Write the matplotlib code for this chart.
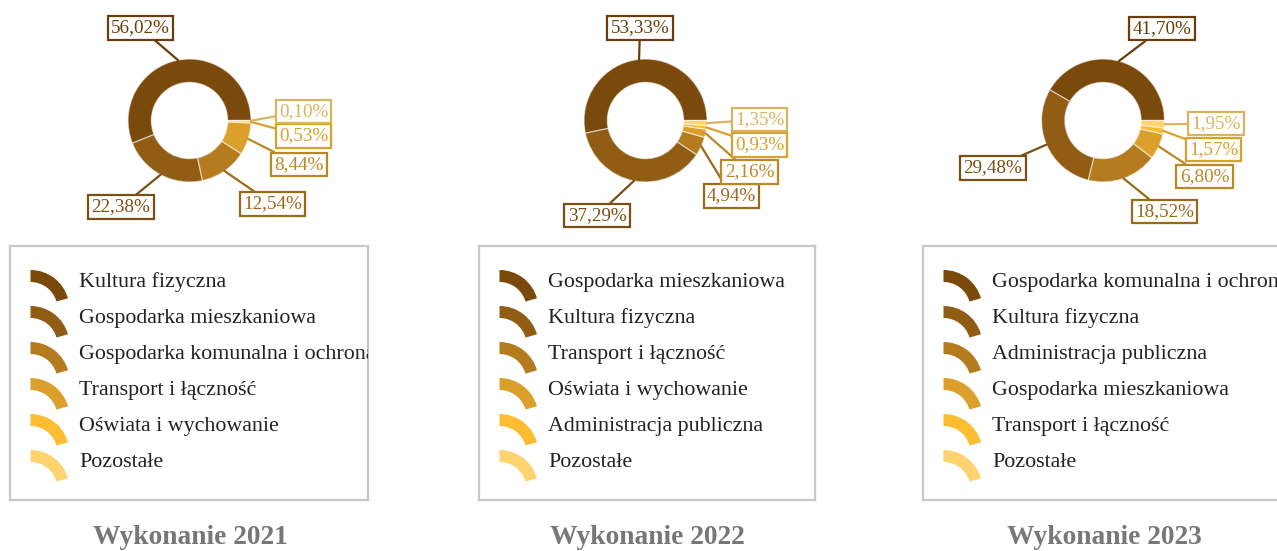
"""
Struktura wydatków majątkowych - wykonanie 2021-2023.

Three donut charts with boxed percentage labels and a framed legend
under each chart.
"""

import numpy as np
import matplotlib.pyplot as plt
from matplotlib.colors import to_rgb
from matplotlib.patches import Wedge

plt.rcParams["font.family"] = ["Liberation Serif", "DejaVu Serif"]

# ---------------------------------------------------------------------------
# Data
# ---------------------------------------------------------------------------

years = ["2021", "2022", "2023"]

categories_2021 = [
    "Kultura fizyczna",
    "Gospodarka mieszkaniowa",
    "Gospodarka komunalna i ochrona środowiska",
    "Transport i łączność",
    "Oświata i wychowanie",
    "Pozostałe",
]
shares_2021 = [56.02, 22.38, 12.54, 8.44, 0.53, 0.10]

categories_2022 = [
    "Gospodarka mieszkaniowa",
    "Kultura fizyczna",
    "Transport i łączność",
    "Oświata i wychowanie",
    "Administracja publiczna",
    "Pozostałe",
]
shares_2022 = [53.33, 37.29, 4.94, 2.16, 0.93, 1.35]

categories_2023 = [
    "Gospodarka komunalna i ochrona środowiska",
    "Kultura fizyczna",
    "Administracja publiczna",
    "Gospodarka mieszkaniowa",
    "Transport i łączność",
    "Pozostałe",
]
shares_2023 = [41.70, 29.48, 18.52, 6.80, 1.57, 1.95]

palette = ["#7a4a0c", "#915d14", "#b57b1f", "#dba02c", "#fdbd33", "#ffd470"]

# ---------------------------------------------------------------------------
# Layout (pixels, figure is 1277 x 551)
# ---------------------------------------------------------------------------

W, H = 1277, 551
R_PX = 61.5                       # outer radius of a donut
centers_x = [189.5, 645.5, 1103.0]
center_y = 120.5
half_w = 180.0

# label box centres relative to donut centre (px, y up)
label_offsets = [
    [(-49, 92.5), (-68.5, -86.5), (83, -83.5), (109.5, -44), (114, -15.5), (114, 9)],
    [(-5.5, 92.5), (-48.5, -95), (86, -75.5), (104, -51.5), (114, -24.5), (114, 1)],
    [(59, 92), (-110, -47.5), (61.5, -91), (101.5, -56), (110.5, -29), (113, -3)],
]

# legend frames: left, right, top, bottom (px from top-left)
legend_boxes = [(10, 368, 246, 500), (479, 815, 246, 500), (923, 1300, 246, 500)]
title_x = [190, 647.5, 1104]
title_y = 538


def darker(color, f=0.85):
    return tuple(c * f for c in to_rgb(color))


def fmt_pct(v):
    return f"{v:.2f}".replace(".", ",") + "%"


def draw_donut(fig, cx, shares, offsets):
    ax = fig.add_axes([(cx - half_w) / W, (H - 2 * center_y) / H,
                       2 * half_w / W, 2 * center_y / H])
    wedges, _ = ax.pie(
        shares,
        colors=palette,
        startangle=0,
        counterclock=True,
        radius=1.0,
        wedgeprops=dict(width=0.38, edgecolor=(1, 1, 1, 0.55), linewidth=0.9),
    )
    ax.set_xlim(-half_w / R_PX, half_w / R_PX)
    ax.set_ylim(-center_y / R_PX, center_y / R_PX)
    ax.axis("off")

    for w, v, col, (dx, dy) in zip(wedges, shares, palette, offsets):
        mid = np.deg2rad((w.theta1 + w.theta2) / 2)
        lc = darker(col)
        ax.annotate(
            fmt_pct(v),
            xy=(np.cos(mid), np.sin(mid)),
            xytext=(dx / R_PX, dy / R_PX),
            ha="center", va="center",
            fontsize=13.8, color=lc,
            bbox=dict(boxstyle="square,pad=0.17", fc="white", ec=lc, lw=1.6),
            arrowprops=dict(arrowstyle="-", color=lc, lw=1.6,
                            shrinkA=0, shrinkB=0),
            annotation_clip=False,
        )
    return ax


def draw_legend(fig, box, labels):
    left, right, top, bottom = box
    w, h = right - left, bottom - top
    ax = fig.add_axes([left / W, (H - bottom) / H, w / W, h / H])
    ax.set_xlim(0, w)
    ax.set_ylim(0, h)
    ax.set_xticks([])
    ax.set_yticks([])
    for s in ax.spines.values():
        s.set_color("#c8c8c8")
        s.set_linewidth(1.6)

    for i, (lab, col) in enumerate(zip(labels, palette)):
        y_top = 36.5 + 36 * i
        ax.add_patch(Wedge((20.5, h - y_top - 26.5), 39, 16, 90, width=12,
                           facecolor=col, edgecolor="none"))
        ax.text(69, h - y_top, lab, ha="left", va="center",
                fontsize=15.8, color="#222222", clip_on=True)
    return ax


fig = plt.figure(figsize=(W / 100, H / 100), dpi=100)

all_shares = [shares_2021, shares_2022, shares_2023]
all_labels = [categories_2021, categories_2022, categories_2023]

for k, year in enumerate(years):
    draw_donut(fig, centers_x[k], all_shares[k], label_offsets[k])
    draw_legend(fig, legend_boxes[k], all_labels[k])
    fig.text(title_x[k] / W, 1 - title_y / H, f"Wykonanie {year}",
             ha="center", va="center", fontsize=19.8, fontweight="bold",
             color="#777777")

fig.savefig("out.png", dpi=100, facecolor="white")
